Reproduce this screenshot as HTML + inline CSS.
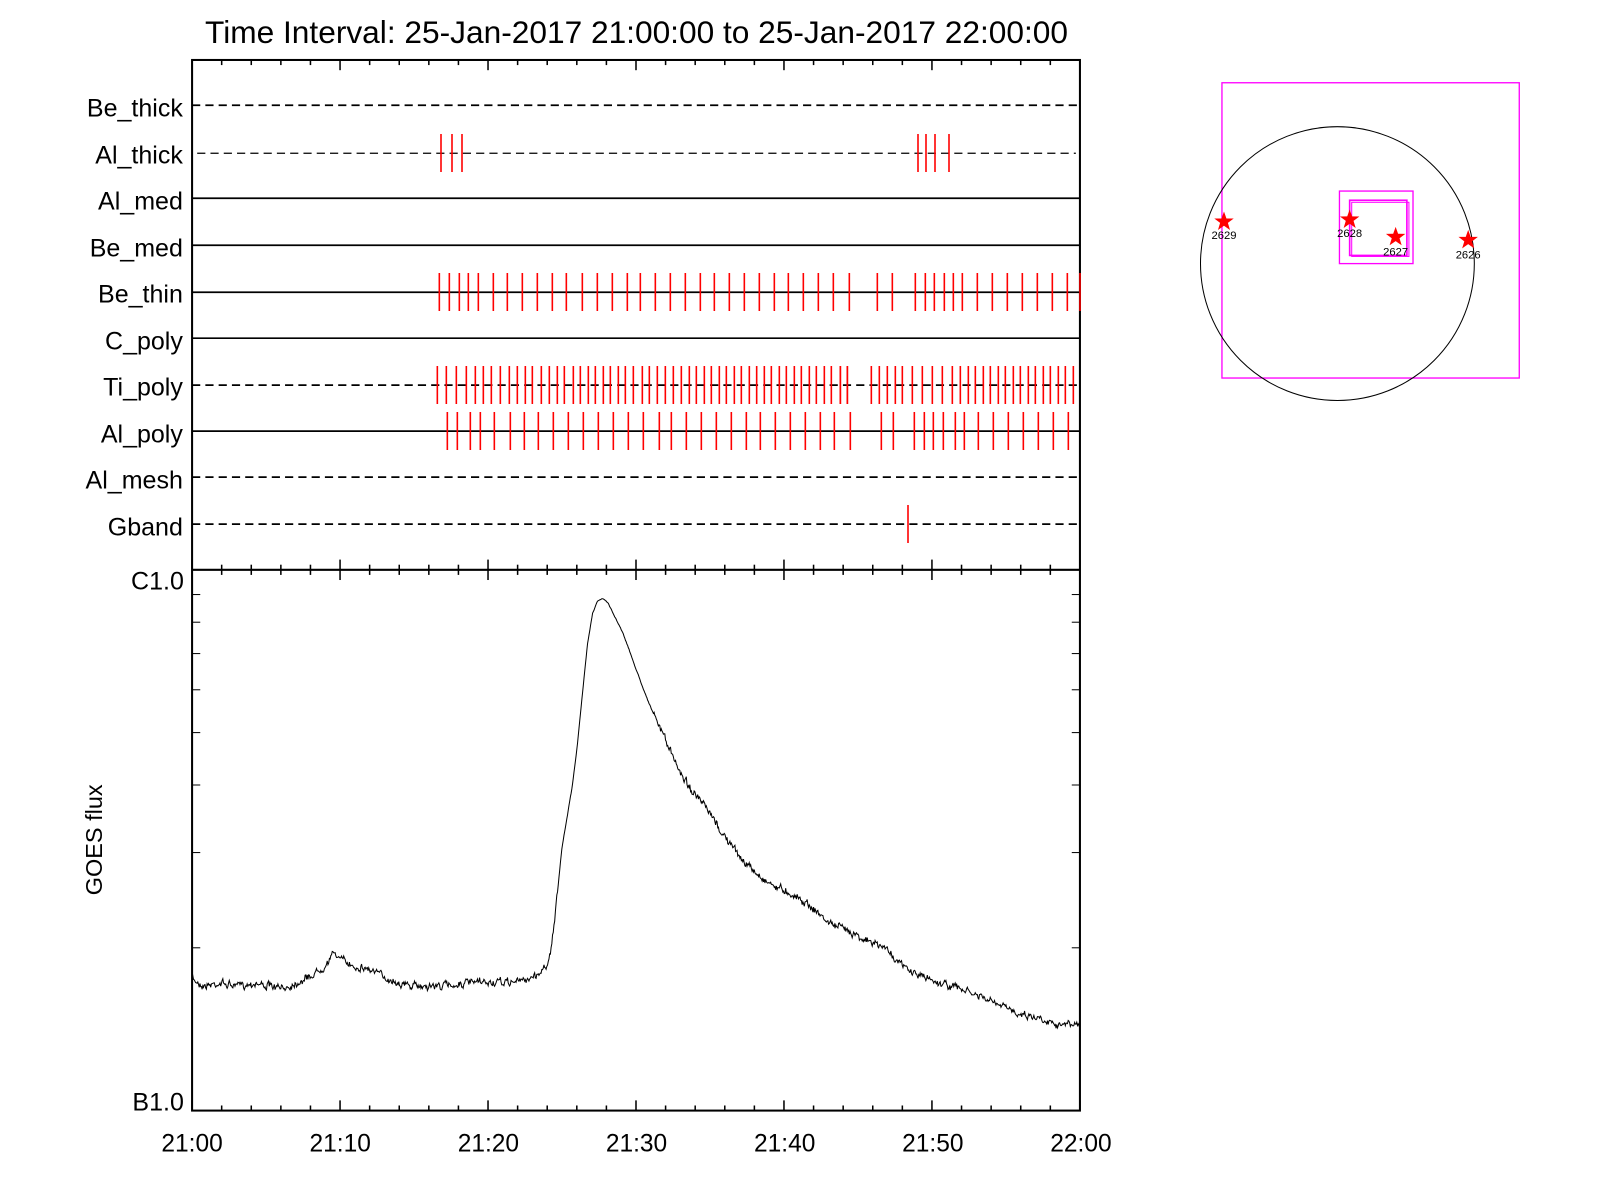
<!DOCTYPE html>
<html><head><meta charset="utf-8"><style>html,body{margin:0;padding:0;background:#fff}svg{display:block}text{font-family:"Liberation Sans",sans-serif}</style></head>
<body>
<svg id="s" width="1600" height="1200" viewBox="0 0 1600 1200" xmlns="http://www.w3.org/2000/svg">
<g id="g" transform="scale(1.0217)">
<text x="623" y="42" font-size="31" text-anchor="middle">Time Interval: 25-Jan-2017 21:00:00 to 25-Jan-2017 22:00:00</text>
<rect x="188" y="58.7" width="869" height="1028.3" fill="none" stroke="#000" stroke-width="2"/>
<line x1="188" y1="557.7" x2="1057" y2="557.7" stroke="#000" stroke-width="2"/>
<g font-size="24.5" text-anchor="end">
<text x="179" y="114">Be_thick</text><text x="179" y="160">Al_thick</text><text x="179" y="205">Al_med</text><text x="179" y="251">Be_med</text><text x="179" y="296">Be_thin</text><text x="179" y="342">C_poly</text><text x="179" y="387">Ti_poly</text><text x="179" y="433">Al_poly</text><text x="179" y="478">Al_mesh</text><text x="179" y="524">Gband</text>
<text x="180" y="577">C1.0</text><text x="180" y="1087">B1.0</text>
</g>
<g font-size="24" text-anchor="middle">
<text x="188" y="1127">21:00</text><text x="333" y="1127">21:10</text><text x="478" y="1127">21:20</text><text x="623" y="1127">21:30</text><text x="768" y="1127">21:40</text><text x="913" y="1127">21:50</text><text x="1058" y="1127">22:00</text>
</g>
<text transform="translate(100,822) rotate(-90)" font-size="23" text-anchor="middle">GOES flux</text>
<rect x="1196" y="81" width="291" height="289" fill="none" stroke="#f0f" stroke-width="1.3"/>
<circle cx="1309" cy="258" r="134" fill="none" stroke="#000" stroke-width="1"/>
<rect x="1311" y="187" width="72" height="71" fill="none" stroke="#f0f" stroke-width="1.3"/>
<rect x="1321" y="196" width="56" height="54" fill="none" stroke="#f0f" stroke-width="1.6"/>
<rect x="1323" y="198" width="56" height="53" fill="none" stroke="#f0f" stroke-width="1"/>
<g id="stars"></g>
<g font-size="11" text-anchor="middle"><text x="1198" y="234">2629</text><text x="1321" y="232">2628</text><text x="1366" y="250">2627</text><text x="1437" y="253">2626</text></g>
<path id="curve" fill="none" stroke="#000" stroke-width="1"/>
</g>
<g id="r" stroke="#f00" stroke-width="1.6"></g>
</svg>
<script>
var NS="http://www.w3.org/2000/svg",g=document.getElementById('g'),r=document.getElementById('r');
function el(p,t,a){var e=document.createElementNS(NS,t);for(var k in a)e.setAttribute(k,a[k]);p.appendChild(e);return e;}
var dash=[1,1,0,0,0,0,1,0,1,1];
[103,150,194,240,286,331,377,422,467,513].forEach(function(y,i){var a={x1:i==1?193:188,x2:i==1?1053:1057,y1:y,y2:y,stroke:'#000','stroke-width':i==1?1.3:1.7};
if(dash[i])a['stroke-dasharray']='8,5';el(g,'line',a);});
for(var m=0;m<=60;m+=2){var x=188+m*14.483,L=(m%10==0)?10:5;
el(g,'line',{x1:x,x2:x,y1:58.7,y2:58.7+L,stroke:'#000','stroke-width':1.5});
el(g,'line',{x1:x,x2:x,y1:557.7-L,y2:557.7+L,stroke:'#000','stroke-width':1.5});
el(g,'line',{x1:x,x2:x,y1:1087,y2:1087-L,stroke:'#000','stroke-width':1.5});}
for(var k=2;k<=9;k++){var y=1087-Math.log10(k)*529.3;el(g,'line',{x1:188,x2:196,y1:y,y2:y,stroke:'#000'});el(g,'line',{x1:1049,x2:1057,y1:y,y2:y,stroke:'#000'});}
function T(x0,arr,y,h){arr.forEach(function(p){var x=x0+p/3;el(r,'line',{x1:x,x2:x,y1:y-h,y2:y+h});});}
T(410,[88,118,148,175,205,250,292,337,382,427,469,517,562,607,652,691,736,781,826,871,913,958,1003,1048,1093,1135,1180,1225,1270,1318],292,19);
T(840,[112,157,226,256,283,313,340,367,412,457,502,547,592,637,682,720],292,19);
T(410,[82,109,139,169,196,220,244,271,298,322,346,367,394,418,442,463,490,511,535,556,580,601,625,646,670,697,718,742,766,790,814,838,859,883,904,928,949,973,994,1018,1040,1063,1084,1108,1129,1153,1174,1198,1219,1243,1264,1291,1312],385,19);
T(840,[1,22,94,118,142,166,187,217,247,277,307,337,361,385,406,430,451,475,496,520,541,565,586,610,631,655,676,700],385,19);
T(410,[112,142,181,211,253,301,343,385,430,475,520,565,610,655,700,748,784,829,874,919,964,1009,1051,1096,1141,1186,1231,1273],431,19);
T(840,[31,124,160,223,253,280,310,346,373,415,460,505,550,595,640,685],431,19);
T(0,[441*3,452*3,462*3,918*3,926*3,935*3,949*3],153,19);
T(0,[908*3],524,19);
var st=document.getElementById('stars');
[[1198,217],[1321,215],[1366,232],[1437,235]].forEach(function(c){var d='';for(var i=0;i<10;i++){var a=-Math.PI/2+i*Math.PI/5,R=i%2?4:10;d+=(i?'L':'M')+(c[0]+R*Math.cos(a)).toFixed(1)+','+(c[1]+R*Math.sin(a)).toFixed(1);}el(st,'path',{d:d+'Z',fill:'#f00'});});
var P=[[188,958],[200,965],[215,962],[230,965],[250,962],[275,968],[290,962],[305,955],[318,945],[328,932],[335,940],[345,945],[360,948],[380,958],[400,965],[430,965],[460,962],[490,962],[510,960],[525,955],[535,945],[540,925],[545,880],[550,830],[555,800],[560,770],[565,730],[570,680],[575,630],[580,600],[585,588],[590,586],[595,590],[600,600],[610,620],[620,648],[630,675],[640,700],[650,720],[660,745],[670,762],[680,778],[690,790],[700,805],[710,820],[720,833],[730,845],[740,855],[750,862],[760,868],[770,872],[780,878],[790,884],[800,893],[810,902],[820,907],[830,910],[840,915],[850,922],[860,925],[870,930],[880,943],[890,950],[900,955],[910,958],[920,962],[935,966],[950,972],[965,978],[980,985],[1000,992],[1020,997],[1040,1003],[1057,1003]];
var seed=7;function rnd(){seed=(seed*16807)%2147483647;return seed/2147483647;}
var d='',j=0,w=0;for(var x=188;x<=1057;x+=0.7){while(j<P.length-2&&P[j+1][0]<x)j++;var a=P[j],b=P[j+1],t=(x-a[0])/(b[0]-a[0]);var y=a[1]+t*(b[1]-a[1]);var amp=(x>545&&x<640)?0.5:3.5;w=0.6*w+(rnd()-0.5)*2;y+=w*amp*0.7+(rnd()-0.5)*amp;d+=(d?'L':'M')+x.toFixed(1)+','+y.toFixed(1);}
document.getElementById('curve').setAttribute('d',d);
</script>
</body></html>
